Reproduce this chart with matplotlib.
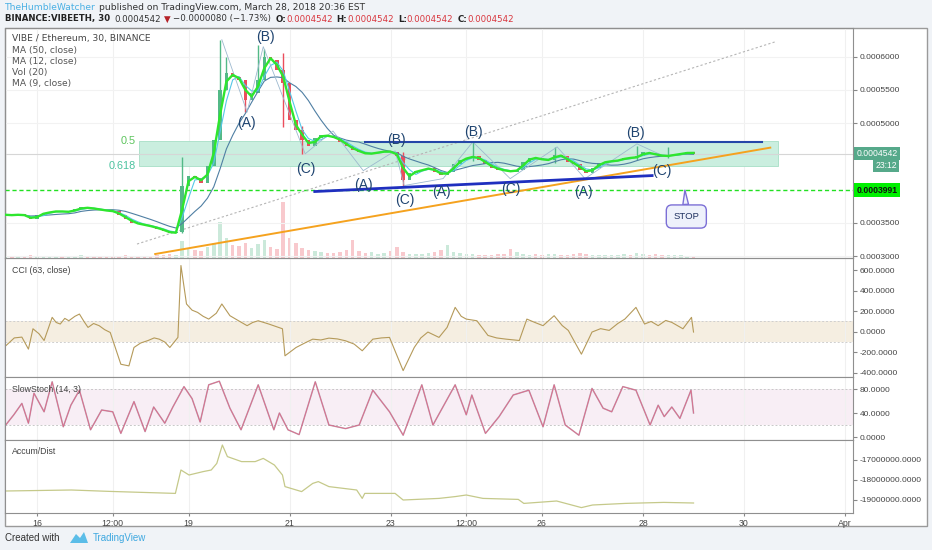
import numpy as np
import pandas as pd
import matplotlib
matplotlib.use('Agg')
import matplotlib.pyplot as plt
from matplotlib.patches import Rectangle, Polygon

plt.rcParams['font.family'] = ['Liberation Sans', 'DejaVu Sans']
plt.rcParams['axes.unicode_minus'] = False

W, H = 932, 550

# ---------------- data (x = day of March 2018) ----------------
bar_start, bar_step = 15.375, 0.125          # 3-hour buckets
close = [3620, 3610, 3630, 3600, 3550, 3620, 3650, 3660, 3680, 3660,
         3670, 3700, 3730, 3720, 3710, 3690, 3680, 3670, 3610, 3560,
         3500, 3480, 3460, 3440, 3410, 3380, 3340, 3360, 4050, 4200,
         4180, 4100, 4350, 4750, 5500, 5750, 5700, 5650, 5350, 5450,
         5650, 6000, 5950, 5800, 5600, 5050, 4900, 4750, 4650, 4780,
         4820, 4800, 4780, 4720, 4650, 4600, 4560, 4530, 4550, 4560,
         4580, 4560, 4500, 4150, 4250, 4280, 4300, 4330, 4260, 4220,
         4260, 4380, 4450, 4480, 4500, 4450, 4380, 4330, 4300, 4280,
         4270, 4300, 4420, 4480, 4470, 4440, 4450, 4520, 4500, 4420,
         4380, 4300, 4250, 4330, 4400, 4420, 4430, 4440, 4480, 4470,
         4500, 4560, 4540, 4520, 4500, 4510, 4530, 4540, 4560, 4542]   # x 1e-7 ETH
volume = [20, 15, 25, 20, 30, 15, 20, 15, 25, 20, 15, 20, 30, 25, 20, 15, 20, 15,
          25, 30, 20, 25, 20, 25, 30, 35, 40, 30, 170, 90, 80, 70, 110, 150, 360,
          200, 130, 120, 150, 100, 140, 180, 110, 90, 560, 200, 150, 100, 80, 70,
          60, 55, 50, 60, 80, 180, 70, 50, 60, 45, 50, 70, 110, 60, 40, 45, 40, 50,
          60, 80, 130, 60, 50, 45, 40, 35, 30, 35, 40, 45, 90, 60, 40, 35, 40, 35,
          45, 40, 35, 30, 40, 50, 40, 35, 30, 35, 30, 35, 40, 35, 50, 40, 35, 45,
          35, 30, 35, 30, 25, 20]                                   # thousand VIBE
spike_days = [18.875, 19.625, 19.75, 20.125, 20.375, 20.5, 20.875, 21.25, 23.25,
              24.625, 26.25, 27.875, 28.5]
spike_hi = [4490, 6250, 5990, 5560, 6170, 6120, 6050, 4950, 4560, 4720, 4640, 4660, 4640]
spike_lo = [3340, 5300, 5500, 5170, 5500, 5850, 4940, 4540, 4060, 4430, 4400, 4450, 4480]

cci_days = [15.38, 15.55, 15.70, 15.83, 15.92, 16.04, 16.14, 16.30, 16.38, 16.46,
            16.55, 16.63, 16.75, 16.84, 16.93, 17.01, 17.12, 17.23, 17.34, 17.45,
            17.66, 17.82, 17.92, 18.05, 18.20, 18.32, 18.42, 18.53, 18.63, 18.79,
            18.85, 18.96, 19.07, 19.18, 19.29, 19.40, 19.55, 19.66, 19.82, 19.98,
            20.16, 20.27, 20.38, 20.59, 20.86, 20.91, 21.13, 21.30, 21.46, 21.62,
            21.78, 21.95, 22.11, 22.28, 22.44, 22.65, 22.82, 22.98, 23.25, 23.47,
            23.60, 23.74, 23.96, 24.12, 24.28, 24.40, 24.50, 24.71, 24.93, 25.10,
            25.29, 25.55, 25.70, 25.86, 26.02, 26.24, 26.40, 26.52, 26.78, 26.99,
            27.16, 27.33, 27.50, 27.64, 27.86, 28.03, 28.16, 28.30, 28.45, 28.57,
            28.79, 28.96, 29.00]
cci_vals = [-137, -60, -52, -169, 29, -20, -85, 140, 90, 75, 130, 107, 150, 172,
            100, 42, 80, 59, 20, -7, -316, -332, -153, -110, -85, -60, -72, -100,
            -153, -55, 644, 270, 210, 188, 150, 123, 180, 270, 156, 110, 59, 90, 107,
            75, 29, -234, -153, -110, -72, -80, -62, -70, -88, -120, -185, -72, -60,
            -55, -378, -153, -60, -3, -55, 42, 237, 150, 123, 107, -36, -60, -72, -85,
            123, 90, 59, 156, 60, 13, -218, -3, 30, 13, 80, 123, 237, 75, 100, 59,
            110, 91, 29, 140, -3]

stoch_days = [15.38, 15.54, 15.70, 15.83, 15.94, 16.14, 16.30, 16.52, 16.67, 16.84,
              17.06, 17.28, 17.50, 17.66, 17.92, 18.14, 18.31, 18.53, 18.69, 18.91,
              19.07, 19.23, 19.40, 19.61, 19.82, 20.04, 20.38, 20.69, 20.80, 20.97,
              21.19, 21.51, 21.78, 22.11, 22.38, 22.65, 22.98, 23.25, 23.62, 23.84,
              24.28, 24.50, 24.61, 24.88, 25.15, 25.43, 25.74, 26.02, 26.24, 26.46,
              26.73, 26.99, 27.21, 27.38, 27.60, 27.86, 28.14, 28.30, 28.42, 28.57,
              28.73, 28.95, 29.00]
stoch_vals = [20, 37, 56, 23, 73, 42, 92, 17, 53, 78, 12, 45, 42, 6, 59, 9, 50, 23,
              50, 84, 64, 25, 87, 93, 48, 12, 87, 12, 40, 12, 4, 92, 20, 14, 20, 78,
              42, 3, 87, 20, 87, 37, 70, 6, 34, 70, 78, 17, 87, 20, 3, 81, 48, 42, 84,
              78, 20, 53, 34, 50, 31, 78, 40]

ad_days = [15.38, 16.68, 17.44, 18.74, 18.85, 19.01, 19.29, 19.45, 19.56, 19.67,
           19.77, 20.05, 20.32, 20.48, 20.70, 20.86, 20.91, 21.24, 21.46, 21.57,
           21.78, 22.33, 22.44, 22.49, 23.09, 23.25, 23.96, 24.28, 24.50, 24.83,
           25.53, 25.64, 26.13, 26.29, 26.78, 27.00, 27.65, 28.41, 29.00]
ad_vals = [-18.55, -18.50, -18.57, -18.67, -17.50, -17.75, -17.58, -17.50, -17.17,
           -16.25, -16.83, -17.08, -17.08, -16.92, -17.25, -17.75, -18.33, -18.58,
           -18.17, -18.08, -18.33, -18.50, -18.92, -18.67, -18.67, -19.00, -18.92,
           -18.83, -18.75, -18.92, -18.97, -19.17, -19.08, -19.05, -19.38, -19.25,
           -19.17, -19.12, -19.15]                                      # millions

date_ticks = [16, 17.5, 19, 21, 23, 24.5, 26, 28, 30, 32]
date_labels = ['16', '12:00', '19', '21', '23', '12:00', '26', '28', '30', 'Apr']

# drawings on the price pane
fib_days = [18.01, 30.67]
fib_levels = [0.0004725, 0.0004350]
resist_days, resist_price = [22.5, 30.36], [0.000471, 0.000471]
support_days, support_price = [21.5, 28.18], [0.000397, 0.000421]
trend_days, trend_price = [18.34, 30.52], [0.000303, 0.000463]
dotted_days, dotted_price = [17.98, 30.61], [0.000318, 0.000622]
zz_days = [19.66, 20.16, 20.48, 21.31, 21.86, 22.46, 23.09, 23.27, 24.04, 24.63,
           25.37, 26.30, 26.85, 27.88, 28.40]
zz_price = [6254, 5164, 6149, 4537, 4881, 4284, 4582, 4060, 4164, 4716, 4164, 4642,
            4164, 4687, 4507]
wave_text = ['(B)', '(A)', '(C)', '(B)', '(A)', '(C)', '(B)', '(A)', '(C)', '(A)', '(B)', '(C)']
wave_days = [20.52, 20.14, 21.33, 23.11, 22.46, 23.29, 24.65, 24.00, 25.39, 26.83, 27.84, 28.38]
wave_price = [6299, 5000, 4313, 4746, 4075, 3836, 4866, 3970, 4015, 3970, 4851, 4284]
last_price = 0.0004542
stop_price = 0.0003991
stop_day = 28.83

# ---------------- figure ----------------
fig = plt.figure(figsize=(W / 100, H / 100), dpi=100, facecolor='#f0f3f7')
fig.add_artist(Rectangle((5 / W, 1 - 526 / H), 922 / W, 498 / H, transform=fig.transFigure,
                         fc='white', ec='#9a9a9a', lw=1, zorder=-1))


def panel(top, bottom, **kw):
    return fig.add_axes([5 / W, 1 - bottom / H, 848 / W, (bottom - top) / H], **kw)


ax_p = panel(28, 258)
ax_c = panel(258, 377, sharex=ax_p)
ax_s = panel(377, 440, sharex=ax_p)
ax_a = panel(440, 513, sharex=ax_p)
axv = ax_p.twinx()
axv.axis('off')
ax_p.set_zorder(axv.get_zorder() + 1)
ax_p.patch.set_visible(False)

for ax in (ax_p, ax_c, ax_s, ax_a):
    ax.yaxis.tick_right()
    ax.tick_params(axis='y', length=3, pad=2, labelsize=6, colors='#888', labelcolor='#444')
    ax.tick_params(axis='x', bottom=False, labelbottom=False)
    for sp in ax.spines.values():
        sp.set_color('#8f8f8f')
    ax.grid(axis='x', color='#f0f0f0', lw=0.8)
    ax.set_axisbelow(True)

ax_a.set_xticks(date_ticks, date_labels)
ax_a.tick_params(axis='x', bottom=True, labelbottom=True, length=2.5, pad=1.5,
                 labelsize=6.3, colors='#888', labelcolor='#444')
ax_p.set_xlim(15.366, 32.158)

# ---- price pane ----
days = bar_start + bar_step * np.arange(len(close))
price = np.array(close) * 1e-7
opens = np.r_[price[0], price[:-1]]
up = price >= opens
col = np.where(up, '#53b987', '#eb4d5c')

ax_p.set_ylim(0.000297, 0.000643)
ax_p.set_yticks([0.0003, 0.00035, 0.0005, 0.00055, 0.0006])
ax_p.yaxis.set_major_formatter(plt.FormatStrFormatter('%.7f'))
ax_p.grid(axis='y', color='#f2f2f2', lw=0.8)

axv.bar(days, volume, width=0.07, color=col, alpha=0.3)
axv.set_ylim(0, 2300)

ax_p.add_patch(Rectangle((fib_days[0], fib_levels[1]), fib_days[1] - fib_days[0],
                         fib_levels[0] - fib_levels[1], fc='#caeedf', ec='#a6dfc6',
                         lw=0.6, zorder=1))
ax_p.text(fib_days[0] - 0.06, fib_levels[0], '0.5', ha='right', va='center',
          color='#5cc45c', fontsize=7.8)
ax_p.text(fib_days[0] - 0.06, fib_levels[1], '0.618', ha='right', va='center',
          color='#4cc3a0', fontsize=7.8)

ax_p.axhline(last_price, color='#d6d6d6', lw=0.8, zorder=1)
ax_p.axhline(stop_price, color='#22e022', lw=1, ls=(0, (3, 2)), zorder=2)
ax_p.plot(dotted_days, dotted_price, color='#b5b5b5', lw=0.8, ls=(0, (2, 2)), zorder=2)
ax_p.plot(trend_days, trend_price, color='#f5a21e', lw=1.4, zorder=4)

ax_p.bar(days, np.maximum(np.abs(price - opens), 2e-7), bottom=np.minimum(price, opens),
         width=0.07, color=col, zorder=3)
spike_col = col[np.clip(np.searchsorted(days, spike_days), 0, len(col) - 1)]
ax_p.vlines(spike_days, np.array(spike_lo) * 1e-7, np.array(spike_hi) * 1e-7,
            colors=spike_col, lw=1, zorder=3)

s = pd.Series(price)
ax_p.plot(days, s.rolling(8, min_periods=1).mean(), color='#4f7fa3', lw=0.8, zorder=4)
ax_p.plot(days, s.rolling(3, min_periods=1).mean(), color='#55c8e8', lw=0.8, zorder=4)
ax_p.plot(days, s.rolling(2, min_periods=1).mean(), color='#2ee62e', lw=1.7, zorder=5)
ax_p.plot(zz_days, np.array(zz_price) * 1e-7, color='#9db9cf', lw=0.6, zorder=4)

ax_p.plot(resist_days, resist_price, color='#2447a8', lw=1.5, zorder=5)
ax_p.plot(support_days, support_price, color='#1f2fbf', lw=2, zorder=5)

for t, d, p in zip(wave_text, wave_days, wave_price):
    ax_p.text(d, p * 1e-7, t, ha='center', va='center', fontsize=10, color='#1f4470', zorder=6)

ax_p.annotate('STOP', xy=(stop_day, stop_price), xytext=(1, -19), textcoords='offset points',
              ha='center', va='center', fontsize=6.8, color='#1f3160', zorder=6,
              bbox=dict(boxstyle='round,pad=0.75,rounding_size=0.6', fc='#eef1fb', ec='#7c6fd6', lw=1),
              arrowprops=dict(arrowstyle='wedge,tail_width=0.6,shrink_factor=0.5',
                              fc='#eef1fb', ec='#7c6fd6', lw=1, shrinkA=0, shrinkB=0))

ytrans = ax_p.get_yaxis_transform()
ax_p.annotate('0.0004542', xy=(1, last_price), xycoords=ytrans, xytext=(2.6, 0),
              textcoords='offset points', ha='left', va='center', fontsize=6.2, color='white',
              bbox=dict(boxstyle='square,pad=0.25', fc='#56a98a', ec='none'), annotation_clip=False)
ax_p.annotate('23:12', xy=(1, last_price), xycoords=ytrans, xytext=(31.5, -8.3),
              textcoords='offset points', ha='right', va='center', fontsize=6.2, color='white',
              bbox=dict(boxstyle='square,pad=0.25', fc='#56a98a', ec='none'), annotation_clip=False)
ax_p.annotate('0.0003991', xy=(1, stop_price), xycoords=ytrans, xytext=(2.6, 0),
              textcoords='offset points', ha='left', va='center', fontsize=6.2, color='#111',
              fontweight='bold',
              bbox=dict(boxstyle='square,pad=0.25', fc='#00f000', ec='none'), annotation_clip=False)

# ---- CCI pane ----
ax_c.set_ylim(-440, 717)
ax_c.set_yticks([-400, -200, 0, 200, 400, 600])
ax_c.yaxis.set_major_formatter(plt.FormatStrFormatter('%.4f'))
ax_c.axhspan(-100, 100, fc='#f5eee1', zorder=0)
for lv in (-100, 100):
    ax_c.axhline(lv, color='#cfcfcf', lw=0.7, ls=(0, (2, 2)), zorder=1)
ax_c.plot(cci_days, cci_vals, color='#b59a5a', lw=0.8)

# ---- SlowStoch pane ----
ax_s.set_ylim(-5, 100)
ax_s.set_yticks([0, 40, 80])
ax_s.yaxis.set_major_formatter(plt.FormatStrFormatter('%.4f'))
ax_s.axhspan(20, 80, fc='#f8eef5', zorder=0)
for lv in (20, 80):
    ax_s.axhline(lv, color='#c8c8c8', lw=0.7, ls=(0, (2, 2)), zorder=1)
ax_s.plot(stoch_days, stoch_vals, color='#8c6a86', lw=1.1, alpha=0.55)
ax_s.plot(stoch_days, stoch_vals, color='#dd6a88', lw=0.6)

# ---- Accum/Dist pane ----
ax_a.set_ylim(-19.65e6, -16.0e6)
ax_a.set_yticks([-19e6, -18e6, -17e6])
ax_a.yaxis.set_major_formatter(plt.FormatStrFormatter('%.4f'))
ax_a.plot(ad_days, np.array(ad_vals) * 1e6, color='#c5c98a', lw=0.9)

# ---- texts ----
def ftext(x, y, s, **kw):
    return fig.text(x / W, 1 - y / H, s, va='center', ha='left', **kw)


legend = ['VIBE / Ethereum, 30, BINANCE', 'MA (50, close)', 'MA (12, close)', 'Vol (20)', 'MA (9, close)']
for i, s in enumerate(legend):
    ftext(12, 39 + 11.2 * i, s, fontsize=6.6, family='DejaVu Sans',
          color='#444' if i == 0 else '#555')
ftext(12, 270, 'CCI (63, close)', fontsize=6.3, color='#444')
ftext(12, 389, 'SlowStoch (14, 3)', fontsize=6.3, color='#444')
ftext(12, 452, 'Accum/Dist', fontsize=6.3, color='#444')


def write_run(x, y, pieces, size=6.2):
    r = fig.canvas.get_renderer()
    for s, color, weight, gap in pieces:
        t = ftext(x, y, s, color=color, fontsize=size, fontweight=weight,
                  family=['DejaVu Sans'])
        x = t.get_window_extent(r).x1 + gap


RED = '#d9363e'
write_run(5, 7, [('TheHumbleWatcher', '#4ab0e4', 'normal', 3),
                 ('published on TradingView.com, March 28, 2018 20:36 EST', '#333', 'normal', 0)],
          size=6.6)
write_run(5, 19, [('BINANCE:VIBEETH, 30', '#222', 'bold', 4),
                  ('0.0004542', '#333', 'normal', 3),
                  ('\u25bc', '#b52228', 'normal', 3),
                  ('\u22120.0000080 (\u22121.73%)', '#333', 'normal', 4),
                  ('O:', '#222', 'bold', 0), ('0.0004542', RED, 'normal', 4),
                  ('H:', '#222', 'bold', 0), ('0.0004542', RED, 'normal', 4),
                  ('L:', '#222', 'bold', 0), ('0.0004542', RED, 'normal', 4),
                  ('C:', '#222', 'bold', 0), ('0.0004542', RED, 'normal', 0)])

ftext(5, 538, 'Created with', fontsize=7, color='#333')
fig.add_artist(Polygon([(70 / W, 1 - 543 / H), (76 / W, 1 - 534 / H), (80 / W, 1 - 538 / H),
                        (84 / W, 1 - 532 / H), (88 / W, 1 - 543 / H)], closed=True,
                       transform=fig.transFigure, fc='#5bbde8', ec='none'))
ftext(93, 538, 'TradingView', fontsize=7, color='#3ea8e0')

fig.savefig('out.png', dpi=100, facecolor=fig.get_facecolor())
